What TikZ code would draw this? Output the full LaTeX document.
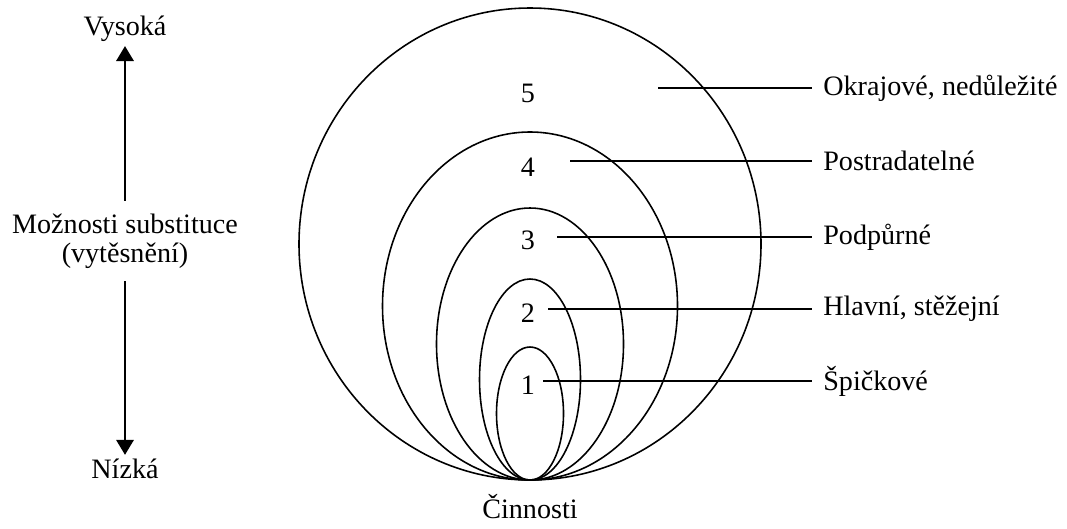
\documentclass[tikz,border=0pt]{standalone}
\usepackage{fontspec}
\setmainfont{Liberation Serif}
\usetikzlibrary{arrows.meta,positioning}
\tikzset{
  txt/.style={font=\fontsize{16}{16.5}\selectfont, inner sep=2pt},
  lbl/.style={txt, anchor=west, inner sep=6pt},
  num/.style={txt},
  arr/.style={-{Triangle[width=10pt,length=8.5pt]}, line width=0.9pt},
}

\begin{document}
\begin{tikzpicture}[x=0.02cm,y=-0.02cm,line width=0.9pt]
    \useasboundingbox (0,0) rectangle (1067,528);
    % nested areas, all touching at the bottom point
    \foreach \i/\cy/\rx/\ry/\ny/\sx/\ly/\lbl in {
      5/244/231/236/93/658/88/{Okrajové, nedůležité},
      4/306/147.5/174/167/570/161/{Postradatelné},
      3/344/93.5/136/240/557/237/{Podpůrné},
      2/379.5/50.5/100.5/313/548/309/{Hlavní, stěžejní},
      1/413.5/33.5/66.5/385/543/381/{Špičkové}}{
      \draw (530,\cy) ellipse ({\rx} and {\ry});
      \node[num] (n\i) at (528,\ny) {\i};
      \coordinate (s\i) at (\sx,\ly);
      \node[lbl] (l\i) at (812,\ly) {\lbl};
      \draw (s\i) -- (l\i.west);
    }
    \node[txt] (act) at (530,507) {Činnosti};
    % substitution scale
    \node[txt] (hi) at (125,29) {Vysoká};
    \node[txt,align=center] (sub) at (125,241) {Možnosti substituce\\(vytěsnění)};
    \node[txt] (lo) at (125,469) {Nízká};
    \draw[arr,shorten <=5pt] (sub) -- (hi);
    \draw[arr,shorten <=5pt] (sub) -- (lo);
  \end{tikzpicture}
\end{document}
